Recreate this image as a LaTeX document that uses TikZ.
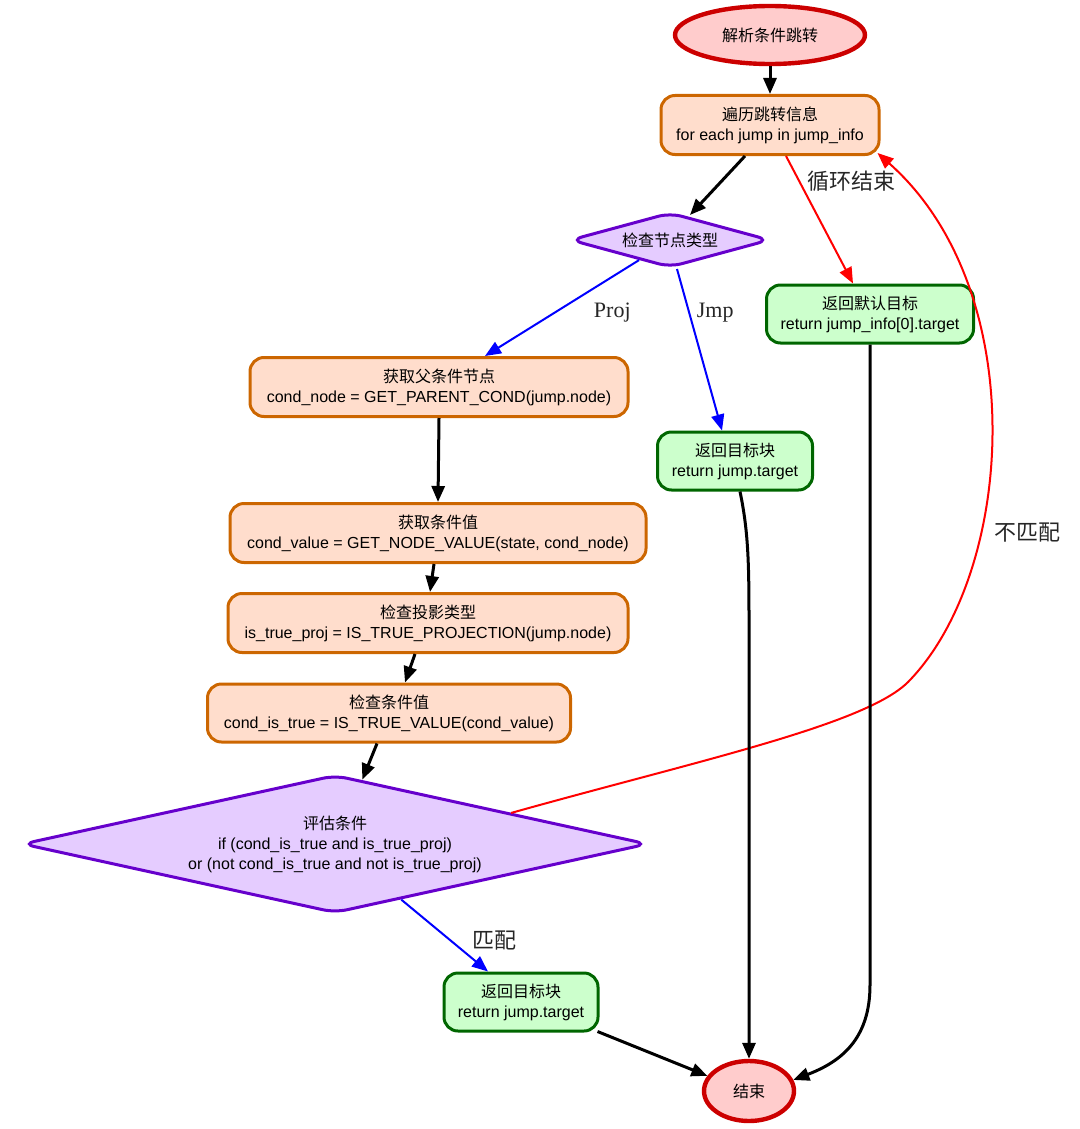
\documentclass[tikz,border=0pt]{standalone}
\usepackage{fontspec}
\setmainfont{Liberation Sans}
\newfontfamily\cjk{Noto Sans CJK SC}
\newfontfamily\lblfont{Liberation Serif}
\usetikzlibrary{shapes.geometric,arrows.meta,calc}

\definecolor{termdraw}{HTML}{CC0000}
\definecolor{termfill}{HTML}{FFCCCC}
\definecolor{procdraw}{HTML}{CC6600}
\definecolor{procfill}{HTML}{FFDDCC}
\definecolor{retdraw}{HTML}{006600}
\definecolor{retfill}{HTML}{CCFFCC}
\definecolor{decdraw}{HTML}{6600CC}
\definecolor{decfill}{HTML}{E5CCFF}

\tikzset{
  base/.style={draw, line width=1.5pt, align=center, inner sep=0pt,
    font=\fontsize{8}{10}\selectfont},
  term/.style={base, ellipse, draw=termdraw, fill=termfill, line width=2.2pt},
  proc/.style={base, rectangle, rounded corners=7pt, draw=procdraw, fill=procfill},
  ret/.style={proc, draw=retdraw, fill=retfill},
  decide/.style={base, diamond, rounded corners=6pt, draw=decdraw, fill=decfill},
  flow/.style={->, line width=1.5pt},
  yes/.style={->, line width=1pt, blue},
  no/.style={->, line width=1pt, red},
  lbl/.style={text=black!85, font=\lblfont\fontsize{11}{13}\selectfont},
}

\begin{document}
\begin{tikzpicture}[x=0.5pt, y=-0.5pt, >={Triangle[length=8pt,width=6.5pt]}]
  \useasboundingbox (0,0) rectangle (1080,1129);
  \node[term, minimum width=95pt, minimum height=29pt] (start) at (770,35) {{\cjk 解析条件跳转}};
  \node[proc, minimum width=109pt, minimum height=29.5pt] (loop) at (770,125) {{\cjk 遍历跳转信息}\\for each jump in jump\_info};
  \node[decide, aspect=3.64, minimum width=100pt, minimum height=27.5pt] (chktype) at (670,240) {{\cjk 检查节点类型}};
  \node[ret, minimum width=103.5pt, minimum height=29pt] (dflt) at (870,314) {{\cjk 返回默认目标}\\return jump\_info[0].target};
  \node[proc, minimum width=189pt, minimum height=29.5pt] (parent) at (439,387) {{\cjk 获取父条件节点}\\cond\_node = GET\_PARENT\_COND(jump.node)};
  \node[ret, minimum width=77.5pt, minimum height=29pt] (retjmp) at (735,461) {{\cjk 返回目标块}\\return jump.target};
  \node[proc, minimum width=208pt, minimum height=29.5pt] (getval) at (438,533) {{\cjk 获取条件值}\\cond\_value = GET\_NODE\_VALUE(state, cond\_node)};
  \node[proc, minimum width=200pt, minimum height=29.5pt] (chkproj) at (428,623) {{\cjk 检查投影类型}\\is\_true\_proj = IS\_TRUE\_PROJECTION(jump.node)};
  \node[proc, minimum width=181.5pt, minimum height=29pt] (chkval) at (389,713) {{\cjk 检查条件值}\\cond\_is\_true = IS\_TRUE\_VALUE(cond\_value)};
  \node[decide, aspect=4.54, minimum width=313pt, minimum height=69pt] (evalc) at (335,844) {{\cjk 评估条件}\\if (cond\_is\_true and is\_true\_proj)\\or (not cond\_is\_true and not is\_true\_proj)};
  \node[ret, minimum width=77pt, minimum height=29pt] (retmatch) at (521,1002) {{\cjk 返回目标块}\\return jump.target};
  \node[term, minimum width=45pt, minimum height=30pt] (stop) at (749,1091) {{\cjk 结束}};

  \draw[flow] (start.south) -- (loop.north);
  \draw[flow] ($(loop.south)+(-25,0)$) -- ($(chktype.north)+(20,4)$);
  \draw[no] ($(loop.south)+(16,0)$) -- node[lbl, pos=.2, right] {\cjk 循环结束} ($(dflt.north)+(-17,0)$);
  \draw[yes] (chktype.213) -- node[lbl, pos=.55, right=16pt] {Proj} ($(parent.north)+(46,0)$);
  \draw[yes] ($(chktype.south)+(7,0)$) -- node[lbl, pos=.27, right] {Jmp} ($(retjmp.north)+(-13,0)$);
  \draw[flow] (parent.south) -- (getval.north);
  \draw[flow] ($(getval.south)+(-4,0)$) -- ($(chkproj.north)+(2,0)$);
  \draw[flow] ($(chkproj.south)+(-13,0)$) -- ($(chkval.north)+(16,0)$);
  \draw[flow] ($(chkval.south)+(-12,0)$) -- (evalc.67);
  \draw[yes] (evalc.320) -- node[lbl, pos=.57, right=7pt] {\cjk 匹配} ($(retmatch.north)+(-33,0)$);
  \draw[no] (evalc.10) .. controls (700,760) and (870,724) .. (910,680)
    .. controls (1015,570) and (1032,290) .. ($(loop.south east)+(-3,-3)$)
    node[lbl, pos=.32, right=3pt] {\cjk 不匹配};
  \draw[flow] ($(retjmp.south)+(5,0)$) .. controls (748,530) and (749,560) .. (749,620) -- (stop.north);
  \draw[flow] (dflt.south) -- (870,985) .. controls (870,1040) and (840,1062) .. (stop.14);
  \draw[flow] ($(retmatch.south east)+(-2,-1)$) -- (stop.160);
\end{tikzpicture}
\end{document}
